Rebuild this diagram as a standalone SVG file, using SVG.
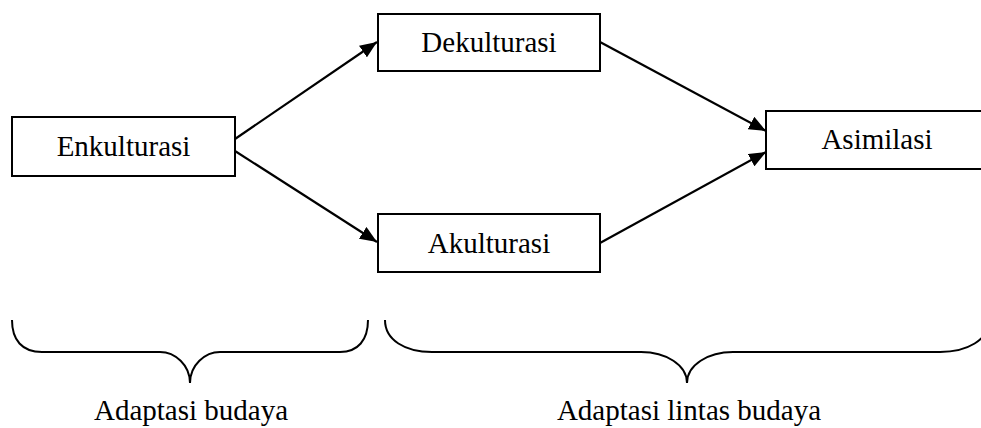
<svg xmlns="http://www.w3.org/2000/svg" width="981" height="428" viewBox="0 0 981 428">
<style>
.box{fill:#fff;stroke:#000;stroke-width:2}
.t{font-family:"Liberation Serif","Times New Roman",serif;font-size:29px;fill:#000;text-anchor:middle}
.c{stroke:#000;stroke-width:2.2;fill:none}
.br{stroke:#000;stroke-width:2;fill:none}
</style>
<defs>
<marker id="ah" markerUnits="userSpaceOnUse" markerWidth="18" markerHeight="14" refX="17" refY="7" orient="auto">
<path d="M0,0 L17,7 L0,14 Z" fill="#000"/>
</marker>
</defs>
<rect width="981" height="428" fill="#fff"/>
<g id="connectors">
<line class="c" x1="235" y1="139" x2="377" y2="42" marker-end="url(#ah)"/>
<line class="c" x1="235" y1="151" x2="377" y2="242" marker-end="url(#ah)"/>
<line class="c" x1="600" y1="42" x2="766" y2="131" marker-end="url(#ah)"/>
<line class="c" x1="600" y1="243" x2="766" y2="152" marker-end="url(#ah)"/>
</g>
<g id="enkulturasi">
<rect class="box" x="12" y="117" width="223" height="59"/>
<text class="t" x="123.5" y="156">Enkulturasi</text>
</g>
<g id="dekulturasi">
<rect class="box" x="378" y="14" width="222" height="57"/>
<text class="t" x="489" y="52">Dekulturasi</text>
</g>
<g id="akulturasi">
<rect class="box" x="378" y="214" width="222" height="58"/>
<text class="t" x="489" y="253">Akulturasi</text>
</g>
<g id="asimilasi">
<rect class="box" x="766" y="111" width="222" height="58"/>
<text class="t" x="877" y="149">Asimilasi</text>
</g>
<g id="brace-left">
<path class="br" d="M12,320 C12,340 22,352 42,352 L160,352 C175,352 190,365 190,383 C190,365 205,352 220,352 L340,352 C358,352 368,340 368,320"/>
<text class="t" x="191" y="420">Adaptasi budaya</text>
</g>
<g id="brace-right">
<path class="br" d="M385,320 C385,340 405,352 432,352 L641,352 C666,352 687,365 687,383 C687,365 708,352 733,352 L940,352 C967,352 989,340 989,320"/>
<text class="t" x="689" y="420">Adaptasi lintas budaya</text>
</g>
</svg>
